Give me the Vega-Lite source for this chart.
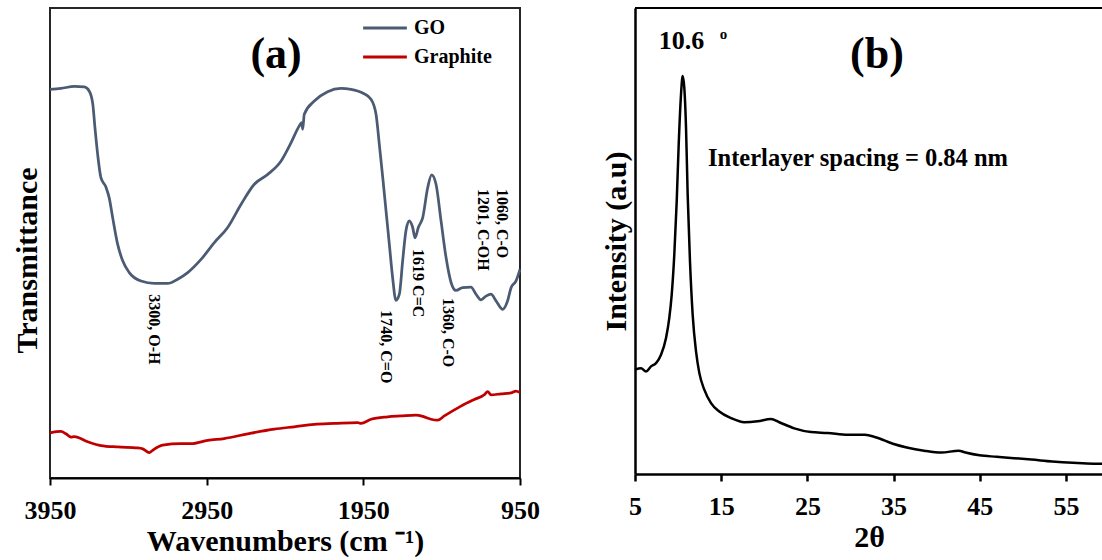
{
  "$schema": "https://vega.github.io/schema/vega-lite/v6.json",
  "background": "white",
  "padding": {"left": 11, "top": 7, "right": 0, "bottom": 0},
  "bounds": "flush",
  "spacing": 115,
  "config": {
    "font": "Liberation Serif",
    "axis": {"grid": false, "labelFont": "Liberation Serif", "titleFont": "Liberation Serif", "labelFontWeight": "bold", "titleFontWeight": "bold", "labelColor": "black", "titleColor": "black", "domainColor": "black", "tickColor": "black"},
    "text": {"font": "Liberation Serif", "fontWeight": "bold", "color": "black"},
    "legend": {"labelFont": "Liberation Serif", "labelFontWeight": "bold", "labelColor": "black"}
  },
  "datasets": {
    "ftir": [
      {"sample": "GO", "wavenumber": 3950, "transmittance": 82.7},
      {"sample": "GO", "wavenumber": 3880, "transmittance": 82.9},
      {"sample": "GO", "wavenumber": 3795, "transmittance": 83.3},
      {"sample": "GO", "wavenumber": 3731, "transmittance": 83.2},
      {"sample": "GO", "wavenumber": 3699, "transmittance": 82.3},
      {"sample": "GO", "wavenumber": 3677, "transmittance": 79.6},
      {"sample": "GO", "wavenumber": 3663, "transmittance": 74.5},
      {"sample": "GO", "wavenumber": 3646, "transmittance": 68.9},
      {"sample": "GO", "wavenumber": 3625, "transmittance": 63.9},
      {"sample": "GO", "wavenumber": 3593, "transmittance": 61.9},
      {"sample": "GO", "wavenumber": 3572, "transmittance": 59.6},
      {"sample": "GO", "wavenumber": 3550, "transmittance": 55.4},
      {"sample": "GO", "wavenumber": 3518, "transmittance": 49.7},
      {"sample": "GO", "wavenumber": 3486, "transmittance": 46.2},
      {"sample": "GO", "wavenumber": 3444, "transmittance": 43.7},
      {"sample": "GO", "wavenumber": 3369, "transmittance": 41.9},
      {"sample": "GO", "wavenumber": 3284, "transmittance": 41.4},
      {"sample": "GO", "wavenumber": 3199, "transmittance": 41.4},
      {"sample": "GO", "wavenumber": 3135, "transmittance": 42.3},
      {"sample": "GO", "wavenumber": 3071, "transmittance": 43.7},
      {"sample": "GO", "wavenumber": 2986, "transmittance": 46.5},
      {"sample": "GO", "wavenumber": 2901, "transmittance": 50.1},
      {"sample": "GO", "wavenumber": 2816, "transmittance": 53.3},
      {"sample": "GO", "wavenumber": 2731, "transmittance": 58.2},
      {"sample": "GO", "wavenumber": 2646, "transmittance": 62.5},
      {"sample": "GO", "wavenumber": 2560, "transmittance": 64.6},
      {"sample": "GO", "wavenumber": 2476, "transmittance": 67.4},
      {"sample": "GO", "wavenumber": 2412, "transmittance": 71.3},
      {"sample": "GO", "wavenumber": 2359, "transmittance": 74.9},
      {"sample": "GO", "wavenumber": 2343, "transmittance": 75.6},
      {"sample": "GO", "wavenumber": 2337, "transmittance": 74.2},
      {"sample": "GO", "wavenumber": 2327, "transmittance": 77.4},
      {"sample": "GO", "wavenumber": 2263, "transmittance": 80.2},
      {"sample": "GO", "wavenumber": 2178, "transmittance": 82.2},
      {"sample": "GO", "wavenumber": 2093, "transmittance": 82.9},
      {"sample": "GO", "wavenumber": 2029, "transmittance": 82.7},
      {"sample": "GO", "wavenumber": 1954, "transmittance": 81.9},
      {"sample": "GO", "wavenumber": 1901, "transmittance": 80.6},
      {"sample": "GO", "wavenumber": 1869, "transmittance": 77.4},
      {"sample": "GO", "wavenumber": 1848, "transmittance": 71.0},
      {"sample": "GO", "wavenumber": 1826, "transmittance": 63.9},
      {"sample": "GO", "wavenumber": 1805, "transmittance": 56.8},
      {"sample": "GO", "wavenumber": 1784, "transmittance": 49.7},
      {"sample": "GO", "wavenumber": 1763, "transmittance": 42.6},
      {"sample": "GO", "wavenumber": 1742, "transmittance": 37.8},
      {"sample": "GO", "wavenumber": 1720, "transmittance": 39.1},
      {"sample": "GO", "wavenumber": 1699, "transmittance": 46.2},
      {"sample": "GO", "wavenumber": 1678, "transmittance": 52.6},
      {"sample": "GO", "wavenumber": 1657, "transmittance": 54.7},
      {"sample": "GO", "wavenumber": 1635, "transmittance": 53.3},
      {"sample": "GO", "wavenumber": 1620, "transmittance": 51.1},
      {"sample": "GO", "wavenumber": 1599, "transmittance": 53.3},
      {"sample": "GO", "wavenumber": 1571, "transmittance": 55.4},
      {"sample": "GO", "wavenumber": 1539, "transmittance": 61.8},
      {"sample": "GO", "wavenumber": 1514, "transmittance": 64.5},
      {"sample": "GO", "wavenumber": 1486, "transmittance": 62.5},
      {"sample": "GO", "wavenumber": 1454, "transmittance": 54.7},
      {"sample": "GO", "wavenumber": 1422, "transmittance": 46.9},
      {"sample": "GO", "wavenumber": 1390, "transmittance": 41.6},
      {"sample": "GO", "wavenumber": 1359, "transmittance": 39.9},
      {"sample": "GO", "wavenumber": 1316, "transmittance": 40.5},
      {"sample": "GO", "wavenumber": 1263, "transmittance": 40.6},
      {"sample": "GO", "wavenumber": 1231, "transmittance": 39.1},
      {"sample": "GO", "wavenumber": 1199, "transmittance": 37.9},
      {"sample": "GO", "wavenumber": 1167, "transmittance": 38.7},
      {"sample": "GO", "wavenumber": 1135, "transmittance": 39.1},
      {"sample": "GO", "wavenumber": 1103, "transmittance": 37.7},
      {"sample": "GO", "wavenumber": 1060, "transmittance": 35.9},
      {"sample": "GO", "wavenumber": 1029, "transmittance": 37.7},
      {"sample": "GO", "wavenumber": 1007, "transmittance": 40.5},
      {"sample": "GO", "wavenumber": 976, "transmittance": 41.9},
      {"sample": "GO", "wavenumber": 950, "transmittance": 44.4},
      {"sample": "Graphite", "wavenumber": 3950, "transmittance": 9.6},
      {"sample": "Graphite", "wavenumber": 3880, "transmittance": 9.9},
      {"sample": "Graphite", "wavenumber": 3848, "transmittance": 9.4},
      {"sample": "Graphite", "wavenumber": 3816, "transmittance": 8.7},
      {"sample": "Graphite", "wavenumber": 3795, "transmittance": 8.8},
      {"sample": "Graphite", "wavenumber": 3709, "transmittance": 7.7},
      {"sample": "Graphite", "wavenumber": 3625, "transmittance": 6.9},
      {"sample": "Graphite", "wavenumber": 3518, "transmittance": 6.6},
      {"sample": "Graphite", "wavenumber": 3390, "transmittance": 6.4},
      {"sample": "Graphite", "wavenumber": 3358, "transmittance": 6.2},
      {"sample": "Graphite", "wavenumber": 3316, "transmittance": 5.4},
      {"sample": "Graphite", "wavenumber": 3295, "transmittance": 5.9},
      {"sample": "Graphite", "wavenumber": 3231, "transmittance": 7.0},
      {"sample": "Graphite", "wavenumber": 3114, "transmittance": 7.3},
      {"sample": "Graphite", "wavenumber": 3050, "transmittance": 7.3},
      {"sample": "Graphite", "wavenumber": 2943, "transmittance": 8.0},
      {"sample": "Graphite", "wavenumber": 2838, "transmittance": 8.4},
      {"sample": "Graphite", "wavenumber": 2688, "transmittance": 9.4},
      {"sample": "Graphite", "wavenumber": 2518, "transmittance": 10.4},
      {"sample": "Graphite", "wavenumber": 2391, "transmittance": 10.9},
      {"sample": "Graphite", "wavenumber": 2263, "transmittance": 11.4},
      {"sample": "Graphite", "wavenumber": 2135, "transmittance": 11.6},
      {"sample": "Graphite", "wavenumber": 1986, "transmittance": 11.8},
      {"sample": "Graphite", "wavenumber": 1965, "transmittance": 11.6},
      {"sample": "Graphite", "wavenumber": 1901, "transmittance": 12.5},
      {"sample": "Graphite", "wavenumber": 1795, "transmittance": 13.0},
      {"sample": "Graphite", "wavenumber": 1710, "transmittance": 13.2},
      {"sample": "Graphite", "wavenumber": 1614, "transmittance": 13.4},
      {"sample": "Graphite", "wavenumber": 1561, "transmittance": 13.0},
      {"sample": "Graphite", "wavenumber": 1518, "transmittance": 12.5},
      {"sample": "Graphite", "wavenumber": 1475, "transmittance": 12.3},
      {"sample": "Graphite", "wavenumber": 1433, "transmittance": 13.2},
      {"sample": "Graphite", "wavenumber": 1327, "transmittance": 15.3},
      {"sample": "Graphite", "wavenumber": 1242, "transmittance": 16.7},
      {"sample": "Graphite", "wavenumber": 1178, "transmittance": 17.7},
      {"sample": "Graphite", "wavenumber": 1156, "transmittance": 18.4},
      {"sample": "Graphite", "wavenumber": 1135, "transmittance": 17.7},
      {"sample": "Graphite", "wavenumber": 1071, "transmittance": 17.9},
      {"sample": "Graphite", "wavenumber": 1007, "transmittance": 18.1},
      {"sample": "Graphite", "wavenumber": 976, "transmittance": 18.5},
      {"sample": "Graphite", "wavenumber": 950, "transmittance": 18.2}
    ],
    "ftirLabels": [
      {"wavenumber": 3283, "transmittance": 39.1, "label": "3300, O-H"},
      {"wavenumber": 1805, "transmittance": 35.7, "label": "1740, C=O"},
      {"wavenumber": 1604, "transmittance": 48.7, "label": "1619 C=C"},
      {"wavenumber": 1410, "transmittance": 38.3, "label": "1360, C-O"},
      {"wavenumber": 1183, "transmittance": 61.5, "label": "1201, C-OH"},
      {"wavenumber": 1068, "transmittance": 61.5, "label": "1060, C-O"}
    ],
    "xrd": [
      {"two_theta": 5.0, "intensity": 22.4},
      {"two_theta": 5.7, "intensity": 22.7},
      {"two_theta": 6.28, "intensity": 22.0},
      {"two_theta": 6.86, "intensity": 23.1},
      {"two_theta": 7.44, "intensity": 23.8},
      {"two_theta": 8.02, "intensity": 25.6},
      {"two_theta": 8.6, "intensity": 29.2},
      {"two_theta": 8.98, "intensity": 33.5},
      {"two_theta": 9.26, "intensity": 38.5},
      {"two_theta": 9.56, "intensity": 47.1},
      {"two_theta": 9.84, "intensity": 58.5},
      {"two_theta": 10.07, "intensity": 70.7},
      {"two_theta": 10.34, "intensity": 81.5},
      {"two_theta": 10.53, "intensity": 85.4},
      {"two_theta": 10.72, "intensity": 82.9},
      {"two_theta": 10.92, "intensity": 74.3},
      {"two_theta": 11.11, "intensity": 60.0},
      {"two_theta": 11.38, "intensity": 45.6},
      {"two_theta": 11.69, "intensity": 34.2},
      {"two_theta": 12.08, "intensity": 26.3},
      {"two_theta": 12.46, "intensity": 21.7},
      {"two_theta": 13.04, "intensity": 18.1},
      {"two_theta": 13.82, "intensity": 15.2},
      {"two_theta": 14.78, "intensity": 13.4},
      {"two_theta": 16.14, "intensity": 12.0},
      {"two_theta": 17.68, "intensity": 11.1},
      {"two_theta": 19.23, "intensity": 11.3},
      {"two_theta": 20.78, "intensity": 11.8},
      {"two_theta": 21.74, "intensity": 11.1},
      {"two_theta": 23.48, "intensity": 9.8},
      {"two_theta": 25.42, "intensity": 9.0},
      {"two_theta": 27.36, "intensity": 8.8},
      {"two_theta": 29.68, "intensity": 8.4},
      {"two_theta": 31.68, "intensity": 8.4},
      {"two_theta": 32.91, "intensity": 7.9},
      {"two_theta": 34.92, "intensity": 6.5},
      {"two_theta": 36.53, "intensity": 5.7},
      {"two_theta": 38.54, "intensity": 5.0},
      {"two_theta": 40.55, "intensity": 4.6},
      {"two_theta": 42.55, "intensity": 5.0},
      {"two_theta": 43.35, "intensity": 4.6},
      {"two_theta": 44.97, "intensity": 4.0},
      {"two_theta": 46.97, "intensity": 3.7},
      {"two_theta": 48.97, "intensity": 3.4},
      {"two_theta": 50.99, "intensity": 3.1},
      {"two_theta": 53.4, "intensity": 2.7},
      {"two_theta": 55.8, "intensity": 2.4},
      {"two_theta": 58.21, "intensity": 2.2},
      {"two_theta": 59.3, "intensity": 2.2}
    ]
  },
  "hconcat": [
    {
      "width": 470,
      "height": 470,
      "view": {"stroke": "#262626", "strokeWidth": 2},
      "layer": [
        {
          "data": {"name": "ftir"},
          "mark": {"type": "line", "strokeWidth": 2.75, "interpolate": "monotone"},
          "encoding": {
            "x": {"field": "wavenumber", "type": "quantitative",
              "scale": {"domain": [950, 3950], "reverse": true, "nice": false, "zero": false},
              "axis": {"values": [3950, 2950, 1950, 950], "format": "d", "title": "Wavenumbers (cm ⁻¹)", "labelFontSize": 26, "titleFontSize": 30, "tickSize": 7, "tickWidth": 2, "domainWidth": 2, "labelPadding": 12, "titlePadding": 3, "labelFlush": false, "labelOverlap": false}},
            "y": {"field": "transmittance", "type": "quantitative",
              "scale": {"domain": [0, 100], "nice": false, "zero": false},
              "axis": {"title": "Transmittance", "labels": false, "ticks": false, "domain": false, "titleFontSize": 30, "titlePadding": 8, "titleY": 252}},
            "color": {"field": "sample", "type": "nominal",
              "scale": {"domain": ["GO", "Graphite"], "range": ["#4B5B73", "#C00000"]},
              "legend": {"title": null, "orient": "none", "legendX": 316, "legendY": 1, "symbolType": "M-1.25,0H1.25", "symbolSize": 1225, "symbolStrokeWidth": 3, "labelFontSize": 20, "labelOffset": 10, "rowPadding": 0, "padding": 0}}
          }
        },
        {
          "data": {"name": "ftirLabels"},
          "mark": {"type": "text", "angle": 90, "align": "left", "baseline": "middle", "fontSize": 16},
          "encoding": {
            "x": {"field": "wavenumber", "type": "quantitative"},
            "y": {"field": "transmittance", "type": "quantitative"},
            "text": {"field": "label"}
          }
        },
        {
          "data": {"values": [{"wavenumber": 2507, "transmittance": 87.2, "label": "(a)"}]},
          "mark": {"type": "text", "align": "center", "baseline": "alphabetic", "fontSize": 44},
          "encoding": {
            "x": {"field": "wavenumber", "type": "quantitative"},
            "y": {"field": "transmittance", "type": "quantitative"},
            "text": {"field": "label"}
          }
        }
      ]
    },
    {
      "width": 468,
      "height": 466,
      "view": {"stroke": null},
      "layer": [
        {
          "data": {"name": "xrd"},
          "mark": {"type": "line", "color": "black", "strokeWidth": 2.5, "interpolate": "monotone"},
          "encoding": {
            "x": {"field": "two_theta", "type": "quantitative",
              "scale": {"domain": [5, 59.3], "nice": false, "zero": false},
              "axis": {"values": [5, 15, 25, 35, 45, 55], "format": "d", "title": "2θ", "labelFontSize": 26, "titleFontSize": 30, "tickSize": 7, "tickWidth": 2.5, "domainWidth": 2.5, "labelPadding": 12, "titlePadding": 3, "labelFlush": false, "labelOverlap": false}},
            "y": {"field": "intensity", "type": "quantitative",
              "scale": {"domain": [0, 100], "nice": false, "zero": false},
              "axis": {"title": "Intensity (a.u)", "labels": false, "ticks": false, "domainWidth": 2.5, "titleFontSize": 30, "titlePadding": 4}}
          }
        },
        {
          "data": {"values": [{}]},
          "mark": {"type": "rule", "color": "black", "strokeWidth": 2},
          "encoding": {"y": {"datum": 100}}
        },
        {
          "data": {"values": [{"two_theta": 10.39, "intensity": 91.1, "label": "10.6"}]},
          "mark": {"type": "text", "align": "center", "baseline": "alphabetic", "fontSize": 26},
          "encoding": {
            "x": {"field": "two_theta", "type": "quantitative"},
            "y": {"field": "intensity", "type": "quantitative"},
            "text": {"field": "label"}
          }
        },
        {
          "data": {"values": [{"two_theta": 33.07, "intensity": 87.1, "label": "(b)"}]},
          "mark": {"type": "text", "align": "center", "baseline": "alphabetic", "fontSize": 44},
          "encoding": {
            "x": {"field": "two_theta", "type": "quantitative"},
            "y": {"field": "intensity", "type": "quantitative"},
            "text": {"field": "label"}
          }
        },
        {
          "data": {"values": [{"two_theta": 14.83, "intensity": 93.3, "label": "o"}]},
          "mark": {"type": "text", "align": "left", "baseline": "alphabetic", "fontSize": 15},
          "encoding": {
            "x": {"field": "two_theta", "type": "quantitative"},
            "y": {"field": "intensity", "type": "quantitative"},
            "text": {"field": "label"}
          }
        },
        {
          "data": {"values": [{"two_theta": 13.47, "intensity": 66.0, "label": "Interlayer spacing = 0.84 nm"}]},
          "mark": {"type": "text", "align": "left", "baseline": "alphabetic", "fontSize": 24.5},
          "encoding": {
            "x": {"field": "two_theta", "type": "quantitative"},
            "y": {"field": "intensity", "type": "quantitative"},
            "text": {"field": "label"}
          }
        }
      ]
    }
  ]
}
